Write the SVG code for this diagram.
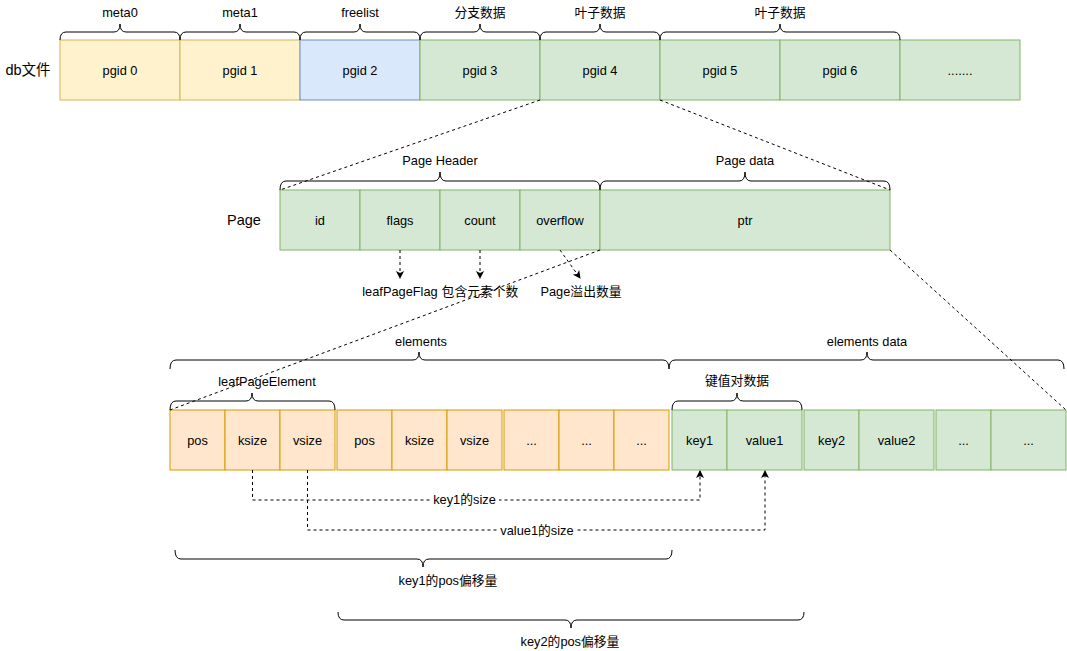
<svg xmlns="http://www.w3.org/2000/svg" width="1067" height="651" viewBox="0 0 1067 651">
<defs>
<marker id="arr" markerWidth="8" markerHeight="8" refX="7" refY="4" orient="auto" markerUnits="userSpaceOnUse"><path d="M0,0 L8,4 L0,8 L2,4 Z" fill="#000"/></marker>
<style>
text{font-family:"Liberation Sans","Noto Sans CJK SC",sans-serif;font-size:12.8px;fill:#000;text-anchor:middle;dominant-baseline:central}
.big{font-size:14.5px}
.y{fill:#fff2cc;stroke:#d6b656}
.b{fill:#dae8fc;stroke:#6c8ebf}
.g{fill:#d5e8d4;stroke:#82b366}
.o{fill:#ffe6cc;stroke:#d79b00}
.br{fill:none;stroke:#000;stroke-width:1}
.d{fill:none;stroke:#000;stroke-dasharray:3 3}
</style>
</defs>
<rect width="1067" height="651" fill="#fff"/>

<g id="db-file">
<text class="big" x="28" y="70">db文件</text>
<rect class="y" x="60" y="40" width="120" height="60"/><text x="120" y="70">pgid 0</text>
<rect class="y" x="180" y="40" width="120" height="60"/><text x="240" y="70">pgid 1</text>
<rect class="b" x="300" y="40" width="120" height="60"/><text x="360" y="70">pgid 2</text>
<rect class="g" x="420" y="40" width="120" height="60"/><text x="480" y="70">pgid 3</text>
<rect class="g" x="540" y="40" width="120" height="60"/><text x="600" y="70">pgid 4</text>
<rect class="g" x="660" y="40" width="120" height="60"/><text x="720" y="70">pgid 5</text>
<rect class="g" x="780" y="40" width="120" height="60"/><text x="840" y="70">pgid 6</text>
<rect class="g" x="900" y="40" width="120" height="60"/><text x="960" y="70">.......</text>
</g>

<g id="top-braces">
<path class="br" d="M60,40 Q60,32 66,32 H114 Q120,32 120,24 Q120,32 126,32 H174 Q180,32 180,40"/><text x="120" y="12">meta0</text>
<path class="br" d="M180,40 Q180,32 186,32 H234 Q240,32 240,24 Q240,32 246,32 H294 Q300,32 300,40"/><text x="240" y="12">meta1</text>
<path class="br" d="M300,40 Q300,32 306,32 H354 Q360,32 360,24 Q360,32 366,32 H414 Q420,32 420,40"/><text x="360" y="12">freelist</text>
<path class="br" d="M420,40 Q420,32 426,32 H474 Q480,32 480,24 Q480,32 486,32 H534 Q540,32 540,40"/><text x="480" y="12">分支数据</text>
<path class="br" d="M540,40 Q540,32 546,32 H594 Q600,32 600,24 Q600,32 606,32 H654 Q660,32 660,40"/><text x="600" y="12">叶子数据</text>
<path class="br" d="M660,40 Q660,32 666,32 H774 Q780,32 780,24 Q780,32 786,32 H894 Q900,32 900,40"/><text x="780" y="12">叶子数据</text>
</g>

<g id="page">
<text class="big" x="244" y="220">Page</text>
<rect class="g" x="280" y="190" width="80" height="60"/><text x="320" y="220">id</text>
<rect class="g" x="360" y="190" width="80" height="60"/><text x="400" y="220">flags</text>
<rect class="g" x="440" y="190" width="80" height="60"/><text x="480" y="220">count</text>
<rect class="g" x="520" y="190" width="80" height="60"/><text x="560" y="220">overflow</text>
<rect class="g" x="600" y="190" width="290" height="60"/><text x="745" y="220">ptr</text>
<path class="br" d="M280,190 Q280,181 286,181 H434 Q440,181 440,172 Q440,181 446,181 H594 Q600,181 600,190"/><text x="440" y="160">Page Header</text>
<path class="br" d="M600,190 Q600,181 606,181 H739 Q745,181 745,172 Q745,181 751,181 H884 Q890,181 890,190"/><text x="745" y="160">Page data</text>
<text x="400" y="291">leafPageFlag</text>
<text x="480" y="291">包含元素个数</text>
<text x="581" y="291">Page溢出数量</text>
</g>

<g id="elements">
<rect class="o" x="170" y="410" width="55" height="60"/><text x="197.5" y="440">pos</text>
<rect class="o" x="225" y="410" width="55" height="60"/><text x="252.5" y="440">ksize</text>
<rect class="o" x="280" y="410" width="55" height="60"/><text x="307.5" y="440">vsize</text>
<rect class="o" x="337" y="410" width="55" height="60"/><text x="364.5" y="440">pos</text>
<rect class="o" x="392" y="410" width="55" height="60"/><text x="419.5" y="440">ksize</text>
<rect class="o" x="447" y="410" width="55" height="60"/><text x="474.5" y="440">vsize</text>
<rect class="o" x="504" y="410" width="55" height="60"/><text x="531.5" y="440">...</text>
<rect class="o" x="559" y="410" width="55" height="60"/><text x="586.5" y="440">...</text>
<rect class="o" x="614" y="410" width="55" height="60"/><text x="641.5" y="440">...</text>
<path class="br" d="M170,369 Q170,360 176,360 H413 Q419,360 419,352 Q419,360 425,360 H663 Q669,360 669,369"/><text x="421" y="341">elements</text>
<path class="br" d="M170,410 Q170,401 176,401 H246 Q252,401 252,393 Q252,401 258,401 H329 Q335,401 335,410"/><text x="267" y="381">leafPageElement</text>
</g>

<g id="elements-data">
<rect class="g" x="672" y="410" width="55" height="60"/><text x="699.5" y="440">key1</text>
<rect class="g" x="727" y="410" width="75" height="60"/><text x="764.5" y="440">value1</text>
<rect class="g" x="804" y="410" width="55" height="60"/><text x="831.5" y="440">key2</text>
<rect class="g" x="859" y="410" width="75" height="60"/><text x="896.5" y="440">value2</text>
<rect class="g" x="936" y="410" width="55" height="60"/><text x="963.5" y="440">...</text>
<rect class="g" x="991" y="410" width="75" height="60"/><text x="1028.5" y="440">...</text>
<path class="br" d="M669,369 Q669,360 675,360 H861 Q867,360 867,352 Q867,360 873,360 H1058 Q1064,360 1064,369"/><text x="867" y="341">elements data</text>
<path class="br" d="M672,410 Q672,401 678,401 H731 Q737,401 737,393 Q737,401 743,401 H796 Q802,401 802,410"/><text x="737" y="380">键值对数据</text>
</g>

<g id="offsets">
<path class="br" d="M175,550 Q175,559 181,559 H417 Q423,559 423,567 Q423,559 429,559 H666 Q672,559 672,550"/><text x="448" y="580">key1的pos偏移量</text>
<path class="br" d="M338,612 Q338,620 344,620 H565 Q571,620 571,628 Q571,620 577,620 H798 Q804,620 804,612"/><text x="570" y="641">key2的pos偏移量</text>
</g>

<g id="connectors">
<path class="d" d="M540,100 L280,190"/>
<path class="d" d="M660,100 L890,190"/>
<path class="d" d="M600,250 L170,410"/>
<path class="d" d="M890,250 L1066,410"/>
<path class="d" d="M400,250 V278" marker-end="url(#arr)"/>
<path class="d" d="M480,250 V278" marker-end="url(#arr)"/>
<path class="d" d="M560,250 L580,278" marker-end="url(#arr)"/>
<path class="d" d="M252.5,470 V500 H700 V471" marker-end="url(#arr)"/>
<path class="d" d="M307.5,470 V530 H765 V471" marker-end="url(#arr)"/>
<rect x="431" y="491" width="68" height="16" fill="#fff"/>
<text x="464.5" y="499">key1的size</text>
<rect x="497" y="522" width="80" height="16" fill="#fff"/>
<text x="537" y="530">value1的size</text>
</g>
</svg>
